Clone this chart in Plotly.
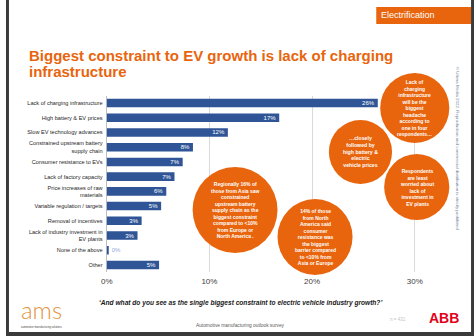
import plotly.graph_objects as go

W, H = 474, 336

categories = [
    "Lack of charging infrastructure",
    "High battery & EV prices",
    "Slow EV technology advances",
    "Constrained upstream battery<br>supply chain",
    "Consumer resistance to EVs",
    "Lack of factory capacity",
    "Price increases of raw<br>materials",
    "Variable regulation / targets",
    "Removal of incentives",
    "Lack of industry investment in<br>EV plants",
    "None of the above",
    "Other",
]
values = [26.4, 16.8, 11.8, 8.4, 7.4, 6.6, 5.8, 5.3, 3.4, 3.0, 0.2, 5.1]
tick_vals = [0, 10, 20, 30]
tick_text = ["0%", "10%", "20%", "30%"]

ORANGE = "#E8650E"
BLUE = "#2F5597"
FONT = "Liberation Sans, Arial, sans-serif"

positions = ["outside" if v < 1 else "inside" for v in values]

fig = go.Figure()
fig.add_trace(go.Bar(
    x=values, y=categories, orientation="h",
    marker=dict(color=BLUE, line=dict(width=0)),
    texttemplate="%{x:.0f}%", textposition=positions,
    insidetextanchor="end", constraintext="none",
    insidetextfont=dict(color="white", size=6, family=FONT),
    outsidetextfont=dict(color="#8FAADC", size=6, family=FONT),
    cliponaxis=False,
    hoverinfo="skip",
))

def px(x):
    return x / W

def py(y):
    return 1 - y / H

x0p, unit = 102, 10.4
xmax = 31
fig.update_layout(
    width=W, height=H,
    margin=dict(l=0, r=0, t=0, b=0),
    paper_bgcolor="white", plot_bgcolor="white",
    showlegend=False,
    bargap=0.42,
    uniformtext=dict(minsize=5, mode="show"),
    font=dict(family=FONT, color="#333333"),
    xaxis=dict(
        domain=[px(x0p), px(x0p + xmax * unit)],
        range=[0, xmax], tickmode="array", tickvals=tick_vals, ticktext=tick_text,
        showgrid=True, gridcolor="#D9D9D9", gridwidth=1,
        zeroline=True, zerolinecolor="#BFBFBF", zerolinewidth=1,
        tickfont=dict(size=8, color="#404040"),
        ticks="outside", ticklen=1, tickcolor="rgba(0,0,0,0)",
        fixedrange=True,
    ),
    yaxis=dict(
        domain=[py(272.4), py(95.6)],
        autorange="reversed",
        tickfont=dict(size=5.6, color="#262626"),
        ticks="outside", ticklen=2, tickcolor="rgba(0,0,0,0)",
        showgrid=False,
        fixedrange=True,
    ),
)

shapes = []
# dark frame
for (a, b, c, d) in [(0, 0, 3, H), (471, 0, W, H), (0, 332, W, H)]:
    shapes.append(dict(type="rect", xref="paper", yref="paper",
                       x0=px(a), x1=px(c), y0=py(d), y1=py(b),
                       fillcolor="#3A3A3A", line=dict(width=0), layer="above"))
# Electrification tab
shapes.append(dict(type="rect", xref="paper", yref="paper",
                   x0=px(375), x1=px(471), y0=py(24), y1=py(7),
                   fillcolor=ORANGE, line=dict(width=0)))

bubbles = [
    (414, 108, 35, "Lack of<br>charging<br>infrastructure<br>will be the<br>biggest<br>headache<br>according to<br>one in four<br>respondents…", 5.0),
    (359, 152, 32, "…closely<br>followed by<br>high battery &<br>electric<br>vehicle prices", 5.2),
    (416, 187, 33, "Respondents<br>are least<br>worried about<br>lack of<br>investment in<br>EV plants", 5.0),
    (232, 210, 43, "Regionally 16% of<br>those from Asia saw<br>constrained<br>upstream battery<br>supply chain as the<br>biggest constraint<br>compared to <10%<br>from Europe or<br>North America .", 5.0),
    (313, 237, 38, "14% of those<br>from North<br>America said<br>consumer<br>resistance was<br>the biggest<br>barrier compared<br>to <10% from<br>Asia or Europe", 5.0),
]
annotations = []
for cx, cy, r, txt, fs in bubbles:
    shapes.append(dict(type="circle", xref="paper", yref="paper",
                       x0=px(cx - r), x1=px(cx + r), y0=py(cy + r), y1=py(cy - r),
                       fillcolor=ORANGE, line=dict(width=0), layer="above"))
    annotations.append(dict(xref="paper", yref="paper", x=px(cx), y=py(cy),
                            text="<b>" + txt + "</b>", showarrow=False,
                            font=dict(size=fs, color="white", family=FONT),
                            align="center", xanchor="center", yanchor="middle"))

annotations += [
    dict(xref="paper", yref="paper", x=px(378), y=py(15.5),
         text="Electrification", showarrow=False, xanchor="left", yanchor="middle",
         font=dict(size=9, color="white", family=FONT)),
    dict(xref="paper", yref="paper", x=px(21), y=py(56),
         text="<b>Biggest constraint to EV growth is lack of charging</b>", showarrow=False,
         xanchor="left", yanchor="middle", font=dict(size=15, color=ORANGE, family=FONT)),
    dict(xref="paper", yref="paper", x=px(21), y=py(71),
         text="<b>infrastructure</b>", showarrow=False,
         xanchor="left", yanchor="middle", font=dict(size=15, color=ORANGE, family=FONT)),
    dict(xref="paper", yref="paper", x=px(238), y=py(303),
         text="<b><i>‘And what do you see as the single biggest constraint to electric vehicle industry growth?’</i></b>",
         showarrow=False, xanchor="center", yanchor="middle",
         font=dict(size=6.6, color="#1A1A1A", family=FONT)),
    dict(xref="paper", yref="paper", x=px(237), y=py(325),
         text="Automotive manufacturing outlook survey", showarrow=False,
         xanchor="center", yanchor="middle", font=dict(size=4.8, color="#595959", family=FONT)),
    dict(xref="paper", yref="paper", x=px(397), y=py(319),
         text="n = 431", showarrow=False, xanchor="center", yanchor="middle",
         font=dict(size=4.5, color="#BFBFBF", family=FONT)),
    dict(xref="paper", yref="paper", x=px(36), y=py(309.5),
         text="ams", showarrow=False, xanchor="center", yanchor="middle",
         font=dict(size=24, color="#E39440", family="Lato", weight=300)),
    dict(xref="paper", yref="paper", x=px(36), y=py(327),
         text="automotive manufacturing solutions", showarrow=False,
         xanchor="center", yanchor="middle", font=dict(size=2.6, color="#444444", family=FONT)),
    dict(xref="paper", yref="paper", x=px(444), y=py(318),
         text="<b>ABB</b>", showarrow=False, xanchor="center", yanchor="middle",
         font=dict(size=14, color="#E2001A", family=FONT)),
    dict(xref="paper", yref="paper", x=px(458), y=py(148),
         text="© Ultima Media 2022. Reproduction and commercial distribution is strictly prohibited",
         showarrow=False, textangle=90, xanchor="center", yanchor="middle",
         font=dict(size=4.4, color="#6F7F99", family=FONT)),
]

fig.update_layout(shapes=shapes, annotations=annotations)
fig.write_html("out.html")
